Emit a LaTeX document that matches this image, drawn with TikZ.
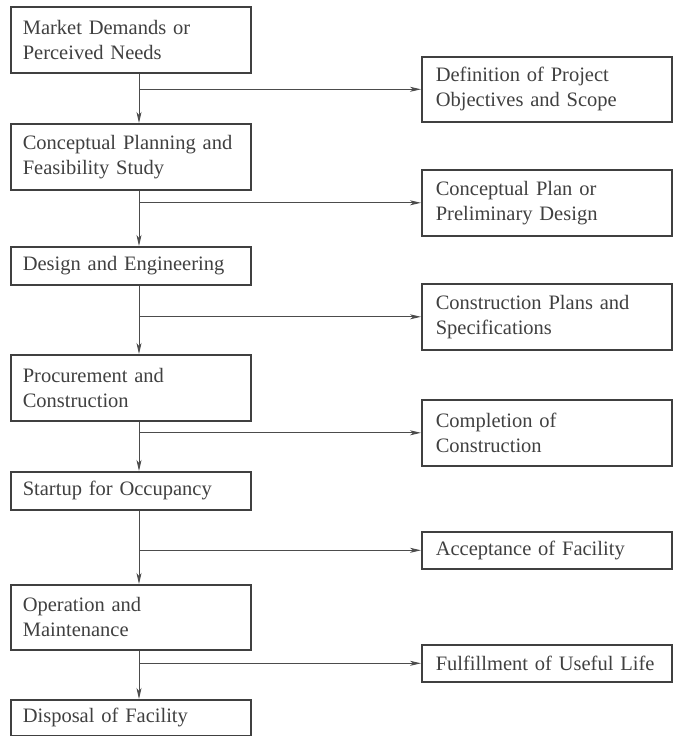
\documentclass[tikz,border=0pt]{standalone}
\usepackage{fontspec}
\setmainfont{Liberation Serif}
\usetikzlibrary{arrows.meta}

\begin{document}
\begin{tikzpicture}[x=1pt, y=-1pt,
        stage/.style={draw=black!75, line width=1.6pt, text=black!75, anchor=north west,
            inner xsep=12pt, inner ysep=0pt, text width=216pt, align=left,
            font=\fontsize{20.5}{25}\selectfont},
        outcome/.style={stage, inner xsep=14pt, text width=222pt},
        flow/.style={draw=black!70, line width=0.9pt, -{Stealth[length=11pt, width=5pt, inset=3pt]}}]
    \useasboundingbox (0,0) rectangle (674,736);
    \coordinate (spine) at (139,0);
    % phases
    \node[stage, minimum height=66pt] (market) at (10,6) {Market Demands or\\Perceived Needs};
    \node[stage, minimum height=66pt] (planning) at (10,123) {Conceptual Planning and\\Feasibility Study};
    \node[stage, minimum height=38pt] (design) at (10,246) {Design and Engineering};
    \node[stage, minimum height=66pt] (procure) at (10,354) {Procurement and\\Construction};
    \node[stage, minimum height=38pt] (startup) at (10,471) {Startup for Occupancy};
    \node[stage, minimum height=65pt] (operate) at (10,584) {Operation and\\Maintenance};
    \node[stage, minimum height=36pt] (disposal) at (10,699) {Disposal of Facility};
    % outcomes
    \node[outcome, minimum height=65pt] (objectives) at (421,56) {Definition of Project\\Objectives and Scope};
    \node[outcome, minimum height=66pt] (prelim) at (421,169) {Conceptual Plan or\\Preliminary Design};
    \node[outcome, minimum height=66pt] (specs) at (421,283) {Construction Plans and\\Specifications};
    \node[outcome, minimum height=66pt] (completion) at (421,399) {Completion of\\Construction};
    \node[outcome, minimum height=37pt] (acceptance) at (421,531) {Acceptance of Facility};
    \node[outcome, minimum height=37pt] (usefullife) at (421,644) {Fulfillment of Useful Life};
    % connectors
    \foreach \a/\b in {market/planning, planning/design, design/procure,
            procure/startup, startup/operate, operate/disposal}
        \draw[flow] (\a.south -| spine) -- (\b.north -| spine);
    \foreach \r in {objectives, prelim, specs, completion, acceptance, usefullife}
        \draw[flow] (\r.west -| spine) -- (\r.west);
\end{tikzpicture}
\end{document}
